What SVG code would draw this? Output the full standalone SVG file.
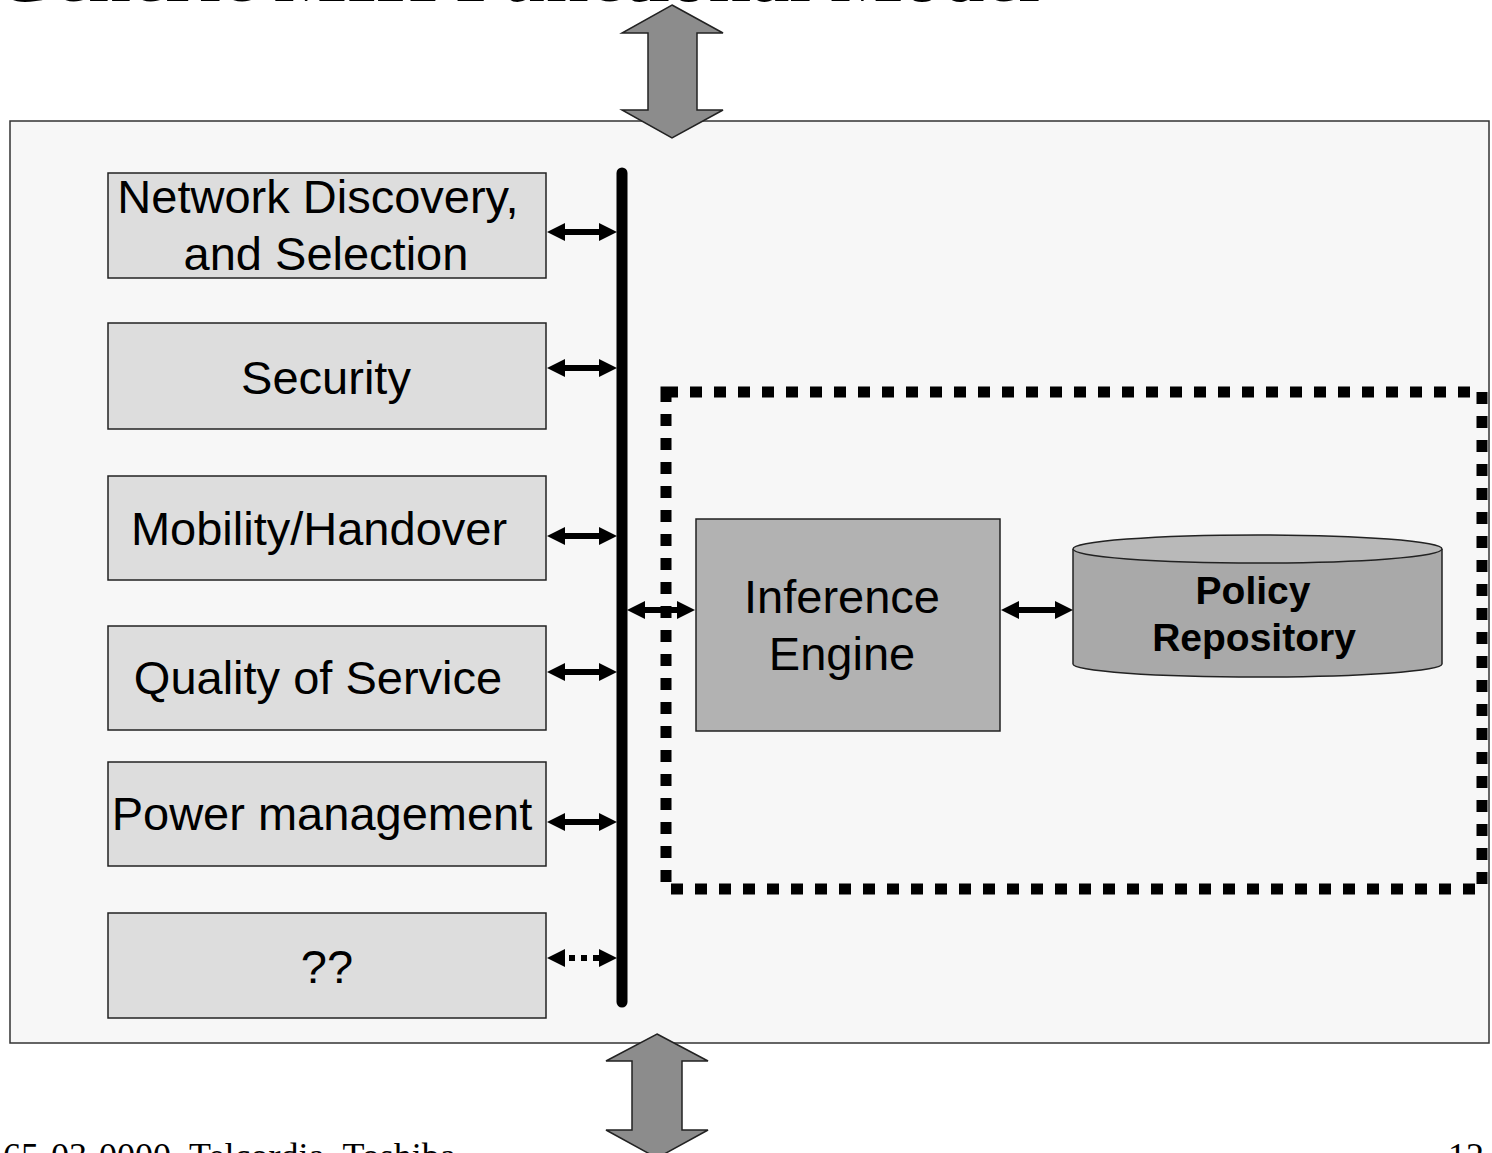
<svg xmlns="http://www.w3.org/2000/svg" width="1492" height="1153" viewBox="0 0 1492 1153">
<style>
.lbl{font-family:"Liberation Sans",Arial,sans-serif;font-size:47px;fill:#000;text-anchor:middle}
.bold{font-family:"Liberation Sans",Arial,sans-serif;font-size:39px;font-weight:bold;fill:#000;text-anchor:middle}
.serif{font-family:"Liberation Serif","Times New Roman",serif;fill:#000}
.box{fill:#dddddd;stroke:#222;stroke-width:1.5}
.conn{stroke:#000;stroke-width:6;fill:none;marker-start:url(#ah);marker-end:url(#ah)}
.big{fill:#8c8c8c;stroke:#222;stroke-width:1.5;stroke-linejoin:miter}
</style>
<defs>
<marker id="ah" markerUnits="userSpaceOnUse" markerWidth="18" markerHeight="18" refX="8" refY="9" orient="auto-start-reverse" overflow="visible">
<path d="M0,0 L18,9 L0,18 z" fill="#000"/>
</marker>
</defs>
<text class="serif" x="-6" y="1" font-size="77" font-weight="bold">Generic MIH Functional Model</text>
<rect id="frame" x="10" y="121" width="1479" height="922" fill="#f7f7f7" stroke="#333" stroke-width="1.5"/>
<g id="top-arrow"><polygon class="big" points="672,5 723,33 697,33 697,110 723,110 672,138 622,110 648,110 648,33 622,33"/></g>
<g id="bottom-arrow"><polygon class="big" points="657,1034 708,1061 682,1061 682,1130 708,1130 657,1158 606,1130 632,1130 632,1061 606,1061"/></g>
<g id="n-discovery"><rect class="box" x="108" y="173" width="438" height="105"/><text class="lbl" x="318" y="213">Network Discovery,</text><text class="lbl" x="326" y="270">and Selection</text></g>
<g id="n-security"><rect class="box" x="108" y="323" width="438" height="106"/><text class="lbl" x="326" y="394">Security</text></g>
<g id="n-mobility"><rect class="box" x="108" y="476" width="438" height="104"/><text class="lbl" x="319" y="545">Mobility/Handover</text></g>
<g id="n-qos"><rect class="box" x="108" y="626" width="438" height="104"/><text class="lbl" x="318" y="694">Quality of Service</text></g>
<g id="n-power"><rect class="box" x="108" y="762" width="438" height="104"/><text class="lbl" x="322" y="830">Power management</text></g>
<g id="n-unknown"><rect class="box" x="108" y="913" width="438" height="105"/><text class="lbl" x="327" y="983">??</text></g>
<g id="n-bus"><line x1="622" y1="173" x2="622" y2="1002" stroke="#000" stroke-width="11" stroke-linecap="round"/></g>
<g id="n-mihf"><rect x="666" y="392" width="816" height="497" fill="none" stroke="#000" stroke-width="11" stroke-dasharray="12 12"/></g>
<g id="n-inference"><rect x="696" y="519" width="304" height="212" fill="#b2b2b2" stroke="#222" stroke-width="1.5"/><text class="lbl" x="842" y="613">Inference</text><text class="lbl" x="842" y="670">Engine</text></g>
<g id="n-policy">
<path d="M1073,549 L1073,664 A184.5,13 0 0 0 1442,664 L1442,549" fill="#a9a9a9" stroke="#222" stroke-width="1.5"/>
<ellipse cx="1257.5" cy="549" rx="184.5" ry="14" fill="#b9b9b9" stroke="#222" stroke-width="1.5"/>
<text class="bold" x="1253" y="604">Policy</text><text class="bold" x="1254" y="651">Repository</text>
</g>
<g id="connectors">
<line class="conn" x1="557" y1="232" x2="607" y2="232"/>
<line class="conn" x1="557" y1="368" x2="607" y2="368"/>
<line class="conn" x1="557" y1="536" x2="607" y2="536"/>
<line class="conn" x1="557" y1="672" x2="607" y2="672"/>
<line class="conn" x1="557" y1="822" x2="607" y2="822"/>
<line class="conn" x1="557" y1="958" x2="607" y2="958" stroke-dasharray="6 6"/>
<line class="conn" x1="637" y1="610" x2="685" y2="610"/>
<line class="conn" x1="1011" y1="610" x2="1063" y2="610"/>
</g>
<text class="serif" x="3" y="1168" font-size="36" word-spacing="6">65-03-0000_Telcordia_Toshiba</text>
<text class="serif" x="1448" y="1168" font-size="36">12</text>
</svg>
